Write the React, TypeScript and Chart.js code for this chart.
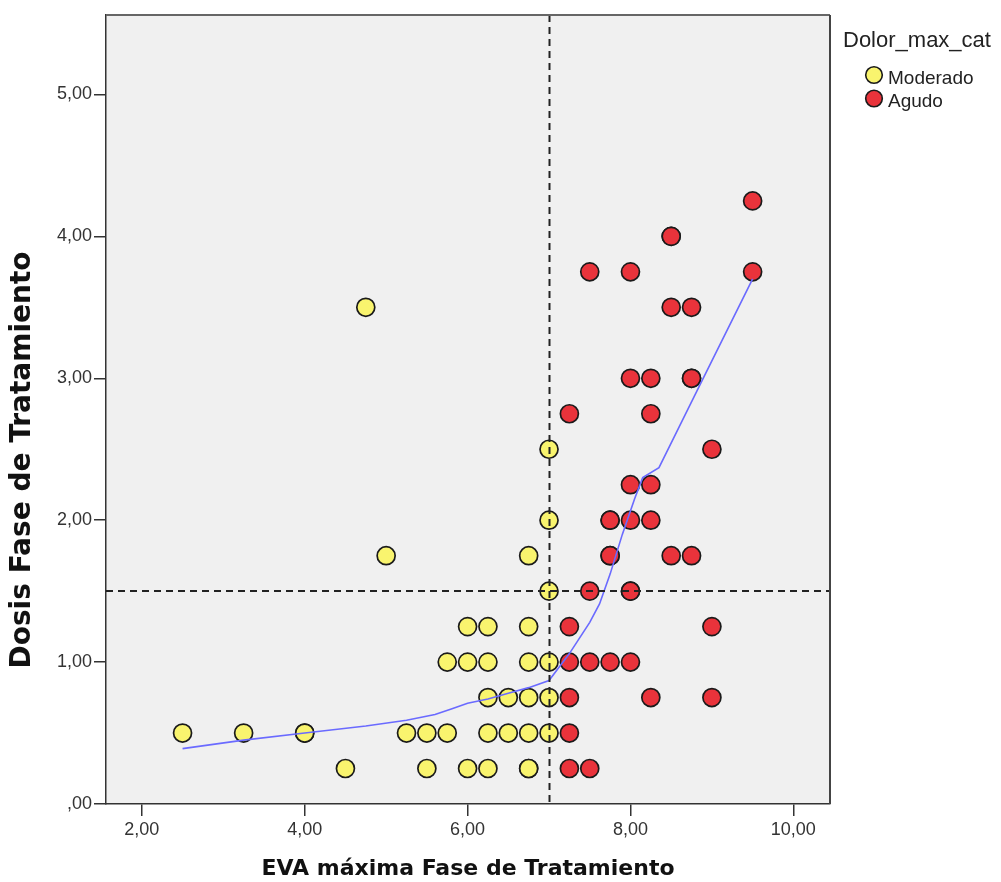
import React, { useEffect, useRef } from "react";
import { Chart, registerables } from "chart.js";

Chart.register(...registerables);

// Moderado (yellow) observations
const moderadoX = [7.0, 7.0, 4.75, 5.0, 6.75, 7.0, 6.0, 6.25, 6.75, 5.75, 6.0, 6.25, 6.75, 7.0, 6.25, 6.5, 6.75, 7.0, 2.5, 3.25, 4.0, 4.0, 5.25, 5.5, 5.75, 6.25, 6.5, 6.75, 7.0, 4.5, 5.5, 6.0, 6.25, 6.75, 6.75];
const moderadoY = [2.0, 2.5, 3.5, 1.75, 1.75, 1.5, 1.25, 1.25, 1.25, 1.0, 1.0, 1.0, 1.0, 1.0, 0.75, 0.75, 0.75, 0.75, 0.5, 0.5, 0.5, 0.5, 0.5, 0.5, 0.5, 0.5, 0.5, 0.5, 0.5, 0.25, 0.25, 0.25, 0.25, 0.25, 0.25];

// Agudo (red) observations
const agudoX = [9.5, 8.5, 8.5, 7.5, 8.0, 9.5, 8.5, 8.75, 8.0, 8.25, 8.75, 8.75, 7.25, 8.25, 9.0, 8.0, 8.25, 7.75, 7.75, 8.0, 8.25, 7.75, 7.75, 8.5, 8.75, 7.5, 8.0, 8.0, 7.25, 9.0, 7.25, 7.5, 7.75, 8.0, 7.25, 8.25, 9.0, 7.25, 7.25, 7.5];
const agudoY = [4.25, 4.0, 4.0, 3.75, 3.75, 3.75, 3.5, 3.5, 3.0, 3.0, 3.0, 3.0, 2.75, 2.75, 2.5, 2.25, 2.25, 2.0, 2.0, 2.0, 2.0, 1.75, 1.75, 1.75, 1.75, 1.5, 1.5, 1.5, 1.25, 1.25, 1.0, 1.0, 1.0, 1.0, 0.75, 0.75, 0.75, 0.5, 0.25, 0.25];

// Fit line
const fitX = [2.5, 3.25, 4.0, 4.75, 5.25, 5.6, 5.8, 6.0, 6.25, 6.5, 6.75, 7.0, 7.25, 7.5, 7.62, 7.75, 7.9, 8.05, 8.15, 8.35, 8.85, 9.5];
const fitY = [0.39, 0.45, 0.5, 0.55, 0.59, 0.63, 0.67, 0.71, 0.74, 0.78, 0.82, 0.87, 1.06, 1.28, 1.41, 1.62, 1.9, 2.15, 2.3, 2.37, 2.95, 3.7];

const xTicks = [2, 4, 6, 8, 10];
const yTicks = [0, 1, 2, 3, 4, 5];
const refX = 7.0;
const refY = 1.5;

const xTitle = "EVA máxima Fase de Tratamiento";
const yTitle = "Dosis Fase de Tratamiento";
const legendTitle = "Dolor_max_cat";
const seriesNames = ["Moderado", "Agudo"];
const seriesColors = ["#f9f46e", "#e9333b"];

const fmt = (v: number) => {
  const s = v.toFixed(2).replace(".", ",");
  return s.startsWith("0,") ? s.slice(1) : s;
};

const W = 1001;
const H = 882;

export default function App() {
  const ref = useRef<HTMLCanvasElement | null>(null);

  useEffect(() => {
    if (!ref.current) return;
    const decor = {
      id: "decor",
      beforeDraw(chart: any) {
        const { ctx, chartArea: a } = chart;
        ctx.save();
        ctx.fillStyle = "#f0f0f0";
        ctx.fillRect(a.left, a.top, a.right - a.left, a.bottom - a.top);
        ctx.restore();
      },
      afterDatasetsDraw(chart: any) {
        const { ctx, chartArea: a, scales } = chart;
        const px = scales.x.getPixelForValue(refX);
        const py = scales.y.getPixelForValue(refY);
        ctx.save();
        ctx.strokeStyle = "#222";
        ctx.lineWidth = 2;
        ctx.setLineDash([7, 5]);
        ctx.beginPath();
        ctx.moveTo(Math.round(px) + 0.5, a.top);
        ctx.lineTo(Math.round(px) + 0.5, a.bottom);
        ctx.moveTo(a.left, Math.round(py));
        ctx.lineTo(a.right, Math.round(py));
        ctx.stroke();
        ctx.setLineDash([]);
        // frame top/right
        ctx.lineWidth = 2;
        ctx.strokeStyle = "#666";
        ctx.beginPath();
        ctx.moveTo(a.left, a.top);
        ctx.lineTo(a.right, a.top);
        ctx.stroke();
        ctx.strokeStyle = "#444";
        ctx.beginPath();
        ctx.moveTo(a.right, a.top);
        ctx.lineTo(a.right, a.bottom);
        ctx.stroke();
        ctx.restore();
      },
      afterDraw(chart: any) {
        const { ctx } = chart;
        ctx.save();
        ctx.fillStyle = "#111";
        // x title
        ctx.font = 'bold 22px "DejaVu Sans", sans-serif';
        ctx.textAlign = "center";
        ctx.textBaseline = "middle";
        ctx.fillText(xTitle, 468, 869);
        // y title
        ctx.save();
        ctx.translate(23, 460);
        ctx.rotate(-Math.PI / 2);
        ctx.font = 'bold 28px "DejaVu Sans", sans-serif';
        ctx.fillText(yTitle, 0, 0);
        ctx.restore();
        // legend
        ctx.textAlign = "left";
        ctx.textBaseline = "alphabetic";
        ctx.fillStyle = "#222";
        ctx.font = '22px "Liberation Sans", Arial, sans-serif';
        ctx.fillText(legendTitle, 843, 47);
        ctx.font = '19px "Liberation Sans", Arial, sans-serif';
        const ys = [75, 98.5];
        seriesNames.forEach((n, i) => {
          ctx.beginPath();
          ctx.arc(874, ys[i], 8.3, 0, Math.PI * 2);
          ctx.fillStyle = seriesColors[i];
          ctx.fill();
          ctx.lineWidth = 1.6;
          ctx.strokeStyle = "#1a1a1a";
          ctx.stroke();
          ctx.fillStyle = "#222";
          ctx.fillText(n, 888, ys[i] + 8.5);
        });
        ctx.restore();
      },
    };

    const tickFont = { family: '"Liberation Sans", Arial, sans-serif', size: 18 };

    const chart = new Chart(ref.current, {
      type: "scatter",
      data: {
        datasets: [
          {
            label: "Ajuste",
            data: fitX.map((x, i) => ({ x, y: fitY[i] })),
            showLine: true,
            borderColor: "#6a6aff",
            borderWidth: 1.6,
            pointRadius: 0,
            fill: false,
            tension: 0,
          } as any,
          {
            label: seriesNames[1],
            data: agudoX.map((x, i) => ({ x, y: agudoY[i] })),
            backgroundColor: seriesColors[1],
            borderColor: "#1a1a1a",
            borderWidth: 1.7,
            pointRadius: 9,
          },
          {
            label: seriesNames[0],
            data: moderadoX.map((x, i) => ({ x, y: moderadoY[i] })),
            backgroundColor: seriesColors[0],
            borderColor: "#1a1a1a",
            borderWidth: 1.7,
            pointRadius: 9,
          },
        ],
      },
      options: {
        responsive: false,
        animation: false,
        layout: { padding: { top: 15, right: 171, left: 0, bottom: 0 } },
        plugins: { legend: { display: false }, tooltip: { enabled: false } },
        scales: {
          x: {
            type: "linear",
            min: 1.56,
            max: 10.45,
            afterBuildTicks: (s: any) => {
              s.ticks = xTicks.map((v) => ({ value: v }));
            },
            afterFit: (s: any) => {
              s.height = 78;
            },
            ticks: {
              callback: (v: any) => fmt(Number(v)),
              font: tickFont,
              color: "#333",
              padding: 3,
              maxRotation: 0,
            },
            grid: { drawOnChartArea: false, drawTicks: true, tickLength: 12, color: "#333", lineWidth: 1.5 },
            border: { display: true, color: "#333", width: 1.5 },
          },
          y: {
            type: "linear",
            min: 0,
            max: 5.56,
            afterBuildTicks: (s: any) => {
              s.ticks = yTicks.map((v) => ({ value: v }));
            },
            afterFit: (s: any) => {
              s.width = 106;
            },
            ticks: {
              callback: (v: any) => fmt(Number(v)),
              font: tickFont,
              color: "#333",
              padding: 2,
            },
            grid: { drawOnChartArea: false, drawTicks: true, tickLength: 12, color: "#333", lineWidth: 1.5 },
            border: { display: true, color: "#333", width: 1.5 },
          },
        },
      } as any,
      plugins: [decor],
    });
    return () => chart.destroy();
  }, []);

  return (
    <div style={{ position: "absolute", left: 0, top: 0, width: W, height: H, background: "#fff" }}>
      <canvas ref={ref} width={W} height={H} style={{ display: "block", width: W, height: H }} />
    </div>
  );
}
